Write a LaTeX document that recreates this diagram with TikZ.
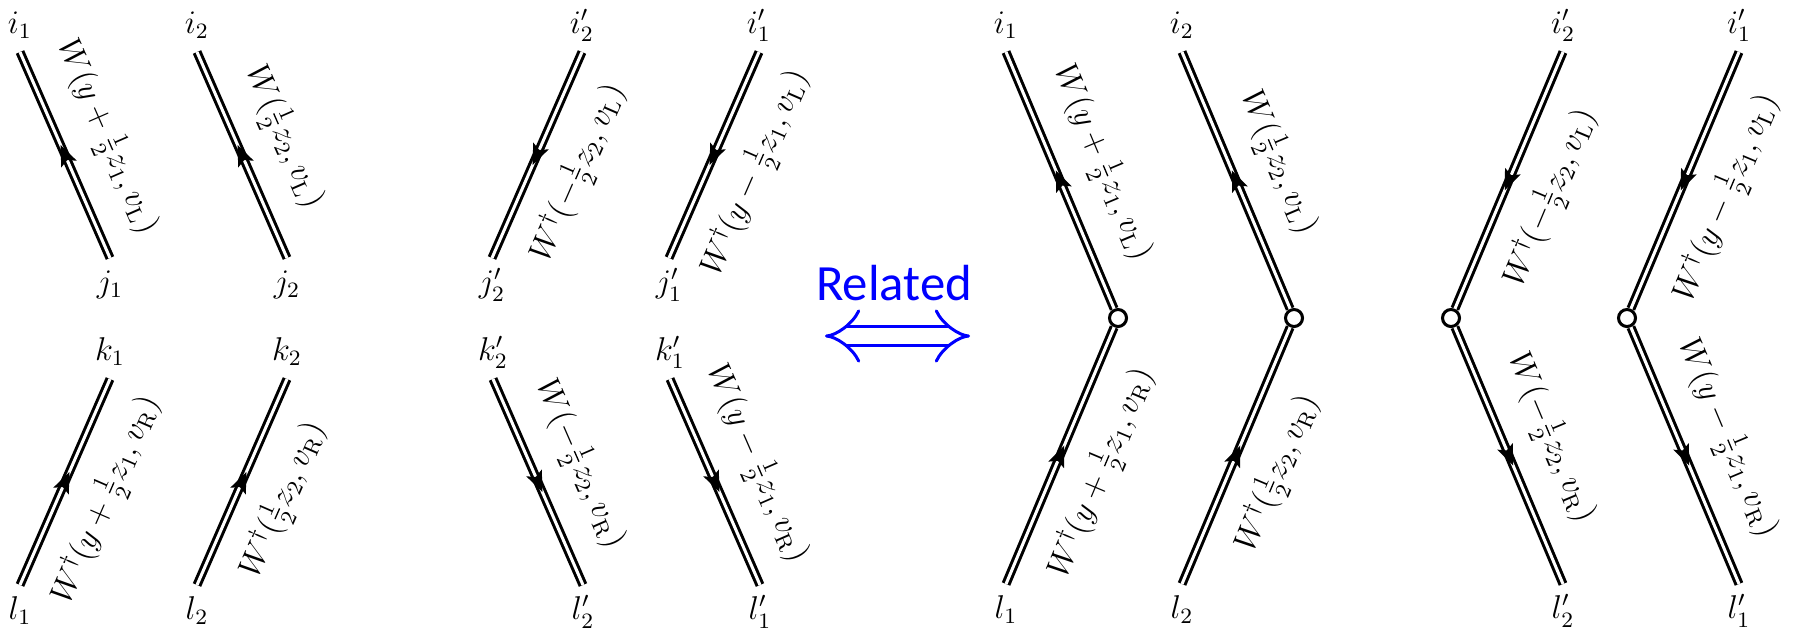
\documentclass[tikz,border=0pt]{standalone}
\usepackage{fontspec}
\usepackage{amsmath}
\usepackage{xcolor}
\usepackage{tikz}
\usetikzlibrary{positioning, arrows.meta, decorations.markings}
\newfontfamily\relfont{Carlito}
\definecolor{relblue}{HTML}{0000FF}

\tikzset{
  wilson/.style={double, line width=1.1pt, double distance=1.1pt,
    postaction={decorate},
    decoration={markings, mark=at position 0.5 with
      {\fill[black] (4pt,0) -- (-3.6pt,3.1pt) -- (-2pt,0) -- (-3.6pt,-3.1pt) -- cycle;}}},
  wlab/.style={sloped, inner sep=0pt, outer sep=9.5pt, font=\large},
  ptlab/.style={inner sep=0pt, font=\large, text height=8.5pt, text depth=2.5pt},
  vtx/.style={circle, draw, fill=white, line width=1.1pt, minimum size=6.2pt, inner sep=0pt},
  relarrow/.style={draw=relblue, double, double distance=5.8pt, line width=1.1pt,
    {Implies}-{Implies}}
}

\begin{document}
\begin{tikzpicture}[x=0.0128cm, y=-0.0128cm]
  \useasboundingbox (0,0) rectangle (1798,631);

  % separate Wilson lines, left group
  \coordinate (i1) at (20,52);   \coordinate (j1) at (110,258);
  \coordinate (i2) at (197,52);  \coordinate (j2) at (287,258);
  \coordinate (k1) at (110,379); \coordinate (l1) at (20,585);
  \coordinate (k2) at (287,379); \coordinate (l2) at (197,585);

  \node[ptlab, above=4pt of i1] (i1t) {$i_1$};
  \node[ptlab, above=4pt of i2] (i2t) {$i_2$};
  \node[ptlab, below=4pt of j1] (j1t) {$j_1$};
  \node[ptlab, below=4pt of j2] (j2t) {$j_2$};
  \node[ptlab, above=4pt of k1] (k1t) {$k_1$};
  \node[ptlab, above=4pt of k2] (k2t) {$k_2$};
  \node[ptlab, below=4pt of l1] (l1t) {$l_1$};
  \node[ptlab, below=4pt of l2] (l2t) {$l_2$};

  \draw[wilson] (j1) -- node[wlab, above] (wa1) {$W(y+\tfrac12 z_1, v_{\rm L})$} (i1);
  \draw[wilson] (j2) -- node[wlab, above] (wa2) {$W(\tfrac12 z_2, v_{\rm L})$} (i2);
  \draw[wilson] (l1) -- node[wlab, below] (wb1) {$W^\dagger(y+\tfrac12 z_1, v_{\rm R})$} (k1);
  \draw[wilson] (l2) -- node[wlab, below] (wb2) {$W^\dagger(\tfrac12 z_2, v_{\rm R})$} (k2);

  % separate Wilson lines, middle group
  \coordinate (ip2) at (582,52);  \coordinate (jp2) at (492,258);
  \coordinate (ip1) at (759,52);  \coordinate (jp1) at (669,258);
  \coordinate (kp2) at (493,379); \coordinate (lp2) at (583,585);
  \coordinate (kp1) at (670,379); \coordinate (lp1) at (760,585);

  \node[ptlab, above=4pt of ip2] (ip2t) {$i'_2$};
  \node[ptlab, above=4pt of ip1] (ip1t) {$i'_1$};
  \node[ptlab, below=4pt of jp2] (jp2t) {$j'_2$};
  \node[ptlab, below=4pt of jp1] (jp1t) {$j'_1$};
  \node[ptlab, above=4pt of kp2] (kp2t) {$k'_2$};
  \node[ptlab, above=4pt of kp1] (kp1t) {$k'_1$};
  \node[ptlab, below=4pt of lp2] (lp2t) {$l'_2$};
  \node[ptlab, below=4pt of lp1] (lp1t) {$l'_1$};

  \draw[wilson] (ip2) -- node[wlab, below] (wc2) {$W^\dagger(-\tfrac12 z_2, v_{\rm L})$} (jp2);
  \draw[wilson] (ip1) -- node[wlab, below] (wc1) {$W^\dagger(y-\tfrac12 z_1, v_{\rm L})$} (jp1);
  \draw[wilson] (kp2) -- node[wlab, above] (wd2) {$W(-\tfrac12 z_2, v_{\rm R})$} (lp2);
  \draw[wilson] (kp1) -- node[wlab, above] (wd1) {$W(y-\tfrac12 z_1, v_{\rm R})$} (lp1);

  % relation
  \node[text=relblue, font=\relfont\fontsize{18.5}{22}\selectfont, inner sep=0pt] (rel) at (894,283) {Related};
  \coordinate (rela) at (825,336);
  \coordinate (relb) at (970,336);
  \draw[relarrow] (rela) -- (relb);

  % joined Wilson lines, right group
  \coordinate (ri1) at (1006,52);   \coordinate (rl1) at (1006,584);
  \coordinate (ri2) at (1182,52);   \coordinate (rl2) at (1182,584);
  \coordinate (rip2) at (1563,52);  \coordinate (rlp2) at (1563,584);
  \coordinate (rip1) at (1739,52);  \coordinate (rlp1) at (1739,584);
  \node[vtx] (rv1) at (1118,318) {};
  \node[vtx] (rv2) at (1294,318) {};
  \node[vtx] (rv3) at (1451,318) {};
  \node[vtx] (rv4) at (1627,318) {};

  \node[ptlab, above=4pt of ri1] (ri1t) {$i_1$};
  \node[ptlab, above=4pt of ri2] (ri2t) {$i_2$};
  \node[ptlab, below=4pt of rl1] (rl1t) {$l_1$};
  \node[ptlab, below=4pt of rl2] (rl2t) {$l_2$};
  \node[ptlab, above=4pt of rip2] (rip2t) {$i'_2$};
  \node[ptlab, above=4pt of rip1] (rip1t) {$i'_1$};
  \node[ptlab, below=4pt of rlp2] (rlp2t) {$l'_2$};
  \node[ptlab, below=4pt of rlp1] (rlp1t) {$l'_1$};

  \draw[wilson] (rv1) -- node[wlab, above] (re1) {$W(y+\tfrac12 z_1, v_{\rm L})$} (ri1);
  \draw[wilson] (rl1) -- node[wlab, below] (rf1) {$W^\dagger(y+\tfrac12 z_1, v_{\rm R})$} (rv1);
  \draw[wilson] (rv2) -- node[wlab, above] (re2) {$W(\tfrac12 z_2, v_{\rm L})$} (ri2);
  \draw[wilson] (rl2) -- node[wlab, below] (rf2) {$W^\dagger(\tfrac12 z_2, v_{\rm R})$} (rv2);
  \draw[wilson] (rip2) -- node[wlab, below] (rg2) {$W^\dagger(-\tfrac12 z_2, v_{\rm L})$} (rv3);
  \draw[wilson] (rv3) -- node[wlab, above] (rh2) {$W(-\tfrac12 z_2, v_{\rm R})$} (rlp2);
  \draw[wilson] (rip1) -- node[wlab, below] (rg1) {$W^\dagger(y-\tfrac12 z_1, v_{\rm L})$} (rv4);
  \draw[wilson] (rv4) -- node[wlab, above] (rh1) {$W(y-\tfrac12 z_1, v_{\rm R})$} (rlp1);
\end{tikzpicture}
\end{document}
